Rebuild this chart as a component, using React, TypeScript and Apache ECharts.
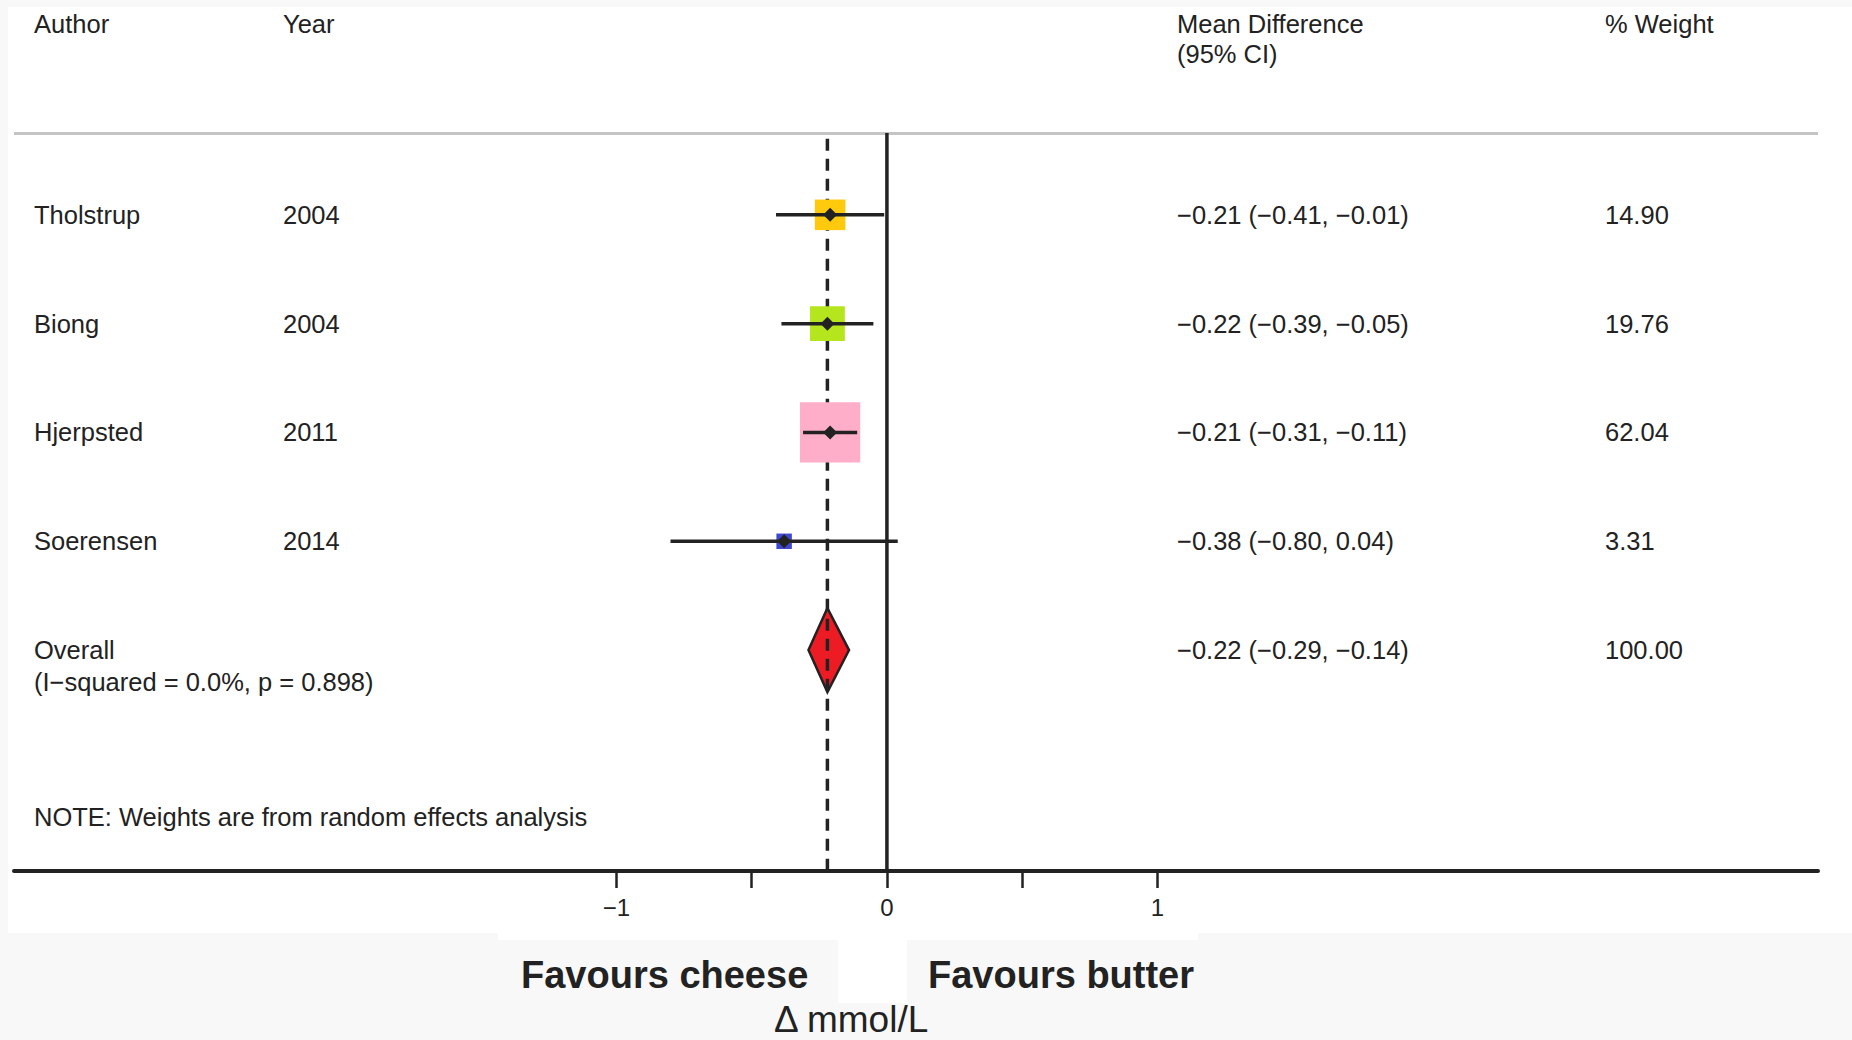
import React, { useEffect, useRef } from "react";
import * as echarts from "echarts";

const authors = ["Tholstrup", "Biong", "Hjerpsted", "Soerensen"];
const years = ["2004", "2004", "2011", "2014"];
const estimates = [-0.21, -0.22, -0.21, -0.38];
const lowerCI = [-0.41, -0.39, -0.31, -0.8];
const upperCI = [-0.01, -0.05, -0.11, 0.04];
const weights = [14.9, 19.76, 62.04, 3.31];
const squareColors = ["#FFC90E", "#B5E61D", "#FFAEC9", "#3F48CC"];

const overallLabel = "Overall";
const heterogeneityText = "(I\u2212squared = 0.0%, p = 0.898)";
const overallEstimate = [-0.22];
const overallLower = [-0.29];
const overallUpper = [-0.14];
const overallWeight = [100.0];

const noteText = "NOTE: Weights are from random effects analysis";
const headers = ["Author", "Year", "Mean Difference", "(95% CI)", "% Weight"];
const xTickValues = [-1, -0.5, 0, 0.5, 1];
const xLabelValues = [-1, 0, 1];
const leftLabel = "Favours cheese";
const rightLabel = "Favours butter";
const unitLabel = "\u0394 mmol/L";

const FONT = '"Liberation Sans", Arial, sans-serif';
const TXT = "#222";
const COL_AUTHOR = 34;
const COL_YEAR = 283;
const COL_MD = 1177;
const COL_W = 1605;
const LW = 3.5;

const fmt = (v: number) => (v < 0 ? "\u2212" : "") + Math.abs(v).toFixed(2);
const mdText = (e: number, l: number, h: number) => `${fmt(e)} (${fmt(l)}, ${fmt(h)})`;

function txt(x: number, y: number, text: string, size = 25.5, weight: any = "normal", align: any = "left") {
  return {
    type: "text",
    x,
    y,
    style: { text, fontSize: size, fontFamily: FONT, fontWeight: weight, fill: TXT, verticalAlign: "middle", align },
  };
}

export default function App() {
  const ref = useRef<HTMLDivElement>(null);
  useEffect(() => {
    if (!ref.current) return;
    const chart = echarts.init(ref.current, null, { renderer: "svg" });
    const studyData = authors.map((_, i) => [i, estimates[i], lowerCI[i], upperCI[i], weights[i]]);
    const overallData = overallEstimate.map((e, i) => [authors.length, e, overallLower[i], overallUpper[i], overallWeight[i]]);

    const option: any = {
      animation: false,
      backgroundColor: "#f8f8f8",
      grid: { left: 14, right: 34, top: 133, bottom: 169, containLabel: false },
      xAxis: {
        type: "value",
        min: -3.227,
        max: 3.442,
        splitLine: { show: false },
        axisLine: { show: true, onZero: false, lineStyle: { color: "#222", width: 4 } },
        axisTick: { show: true, customValues: xTickValues, length: 17, lineStyle: { color: "#222", width: 2.5 } },
        axisLabel: {
          customValues: xLabelValues,
          margin: 24,
          fontSize: 24,
          fontFamily: FONT,
          color: TXT,
          formatter: (v: number) => (v < 0 ? "\u2212" + Math.abs(v) : String(v)),
        },
      },
      yAxis: { type: "value", inverse: true, min: -0.752, max: 6.03, show: false },
      graphic: [
        { type: "rect", z: -10, shape: { x: 8, y: 7, width: 1844, height: 926 }, style: { fill: "#fff" } },
        { type: "rect", z: -10, shape: { x: 498, y: 930, width: 700, height: 10 }, style: { fill: "#fff" } },
        { type: "rect", z: -10, shape: { x: 838, y: 930, width: 69, height: 73 }, style: { fill: "#fff" } },
        { type: "line", shape: { x1: 14, y1: 133.5, x2: 1818, y2: 133.5 }, style: { stroke: "#c4c4c4", lineWidth: 3 } },
        txt(COL_AUTHOR, 24, headers[0]),
        txt(COL_YEAR, 24, headers[1]),
        txt(COL_MD, 24, headers[2]),
        txt(COL_MD, 54, headers[3]),
        txt(COL_W, 24, headers[4]),
        txt(521, 975, leftLabel, 38, "bold"),
        txt(928, 975, rightLabel, 38, "bold"),
        txt(774, 1019, unitLabel, 37),
      ],
      series: [
        {
          type: "custom",
          z: 1,
          encode: { x: 1, y: 0 },
          data: overallData,
          renderItem: (params: any, api: any) => {
            const i = api.value(0);
            const [xe, y] = api.coord([api.value(1), i]);
            const xl = api.coord([api.value(2), i])[0];
            const xh = api.coord([api.value(3), i])[0];
            const hh = 42;
            return {
              type: "group",
              children: [
                {
                  type: "polygon",
                  shape: { points: [[xl, y], [xe, y - hh], [xh, y], [xe, y + hh]] },
                  style: { fill: "#ED1C24", stroke: "#222", lineWidth: 2.5 },
                },
                txt(COL_AUTHOR, y, overallLabel),
                txt(COL_AUTHOR, y + 32, heterogeneityText),
                txt(COL_MD, y, mdText(api.value(1), api.value(2), api.value(3))),
                txt(COL_W, y, api.value(4).toFixed(2)),
                txt(COL_AUTHOR, api.coord([0, i + 1.53])[1], noteText),
              ],
            };
          },
        },
        {
          type: "custom",
          z: 2,
          encode: { x: 0, y: 1 },
          data: [[overallEstimate[0], -0.7]],
          renderItem: (params: any, api: any) => {
            const [xd, yTop] = api.coord([api.value(0), api.value(1)]);
            const yBot = api.coord([0, 6.03])[1];
            const x0 = api.coord([0, 0])[0];
            const yGridTop = api.coord([0, -0.752])[1];
            return {
              type: "group",
              children: [
                { type: "line", shape: { x1: xd, y1: yTop, x2: xd, y2: yBot }, style: { stroke: "#222", lineWidth: LW, lineDash: [12, 8] } },
                { type: "line", shape: { x1: x0, y1: yGridTop, x2: x0, y2: yBot }, style: { stroke: "#222", lineWidth: LW } },
              ],
            };
          },
        },
        {
          type: "custom",
          z: 3,
          encode: { x: 1, y: 0 },
          data: studyData,
          renderItem: (params: any, api: any) => {
            const idx = params.dataIndex;
            const i = api.value(0);
            const est = api.value(1);
            const lo = api.value(2);
            const hi = api.value(3);
            const w = api.value(4);
            const [xe, y] = api.coord([est, i]);
            const xl = api.coord([lo, i])[0];
            const xh = api.coord([hi, i])[0];
            const s = 7.4 * Math.sqrt(w) + 2;
            const d = 7;
            return {
              type: "group",
              children: [
                { type: "rect", shape: { x: xe - s / 2, y: y - s / 2, width: s, height: s }, style: { fill: squareColors[idx] } },
                { type: "line", shape: { x1: xl, y1: y, x2: xh, y2: y }, style: { stroke: "#222", lineWidth: LW } },
                { type: "polygon", shape: { points: [[xe - d, y], [xe, y - d], [xe + d, y], [xe, y + d]] }, style: { fill: "#222" } },
                txt(COL_AUTHOR, y, authors[idx]),
                txt(COL_YEAR, y, years[idx]),
                txt(COL_MD, y, mdText(est, lo, hi)),
                txt(COL_W, y, w.toFixed(2)),
              ],
            };
          },
        },
      ],
    };
    chart.setOption(option);
    return () => chart.dispose();
  }, []);
  return <div ref={ref} style={{ position: "fixed", left: 0, top: 0, width: 1852, height: 1040 }} />;
}
